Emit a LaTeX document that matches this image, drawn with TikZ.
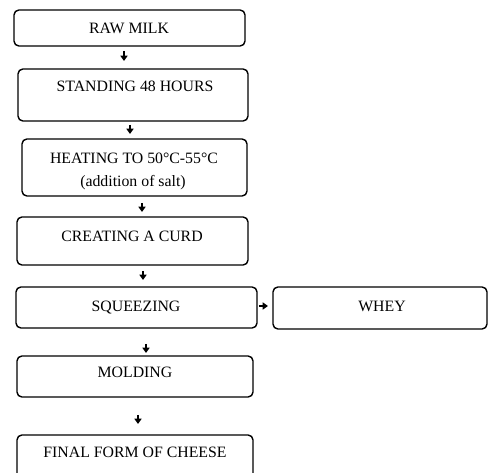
\documentclass[tikz,border=0pt]{standalone}
\usepackage{fontspec}
\setmainfont{Liberation Serif}
\usetikzlibrary{arrows.meta,fit}
\begin{document}
\begin{tikzpicture}[x=0.02cm,y=-0.02cm,
  box/.style={draw, line width=0.8pt, rounded corners=2.8pt, inner sep=0pt},
  txt/.style={font=\fontsize{9}{11}\selectfont, inner sep=0pt, anchor=base},
  arr/.style={line width=1pt, -{Triangle[width=4pt,length=3pt]}}]
\useasboundingbox (0,0) rectangle (488,473);
% boxes
\node[box, fit={(14,10) (245,46)}] (b1) {};
\node[box, fit={(18,69) (248,121)}] (b2) {};
\node[box, fit={(22,139) (247,196)}] (b3) {};
\node[box, fit={(17,217) (248,265)}] (b4) {};
\node[box, fit={(16,287) (257,328)}] (b5) {};
\node[box, fit={(273,287) (487,329)}] (b8) {};
\node[box, fit={(17,356) (253,397)}] (b6) {};
\node[box, fit={(17,435) (253,490)}] (b7) {};
% texts
\node[txt] (t1) at (129,34) {RAW MILK};
\node[txt] (t2) at (135,92) {STANDING 48 HOURS};
\node[txt] (t3) at (134,164) {HEATING TO 50°C-55°C};
\node[txt] (t3b) at (133,187) {(addition of salt)};
\node[txt] (t4) at (132,242) {CREATING A CURD};
\node[txt] (t5) at (136,312) {SQUEEZING};
\node[txt] (t8) at (382,312) {WHEY};
\node[txt] (t6) at (135,378) {MOLDING};
\node[txt] (t7) at (135,458) {FINAL FORM OF CHEESE};
% arrows
\coordinate (a1s) at (124,51); \coordinate (a1e) at (124,61);
\coordinate (a2s) at (130,125); \coordinate (a2e) at (130,134);
\coordinate (a3s) at (142,203); \coordinate (a3e) at (142,212);
\coordinate (a4s) at (143,271); \coordinate (a4e) at (143,280);
\coordinate (a5s) at (146,344); \coordinate (a5e) at (146,353);
\coordinate (a6s) at (138,415); \coordinate (a6e) at (138,424);
\coordinate (a7s) at (259,306); \coordinate (a7e) at (268,306);
\draw[arr] (a1s) -- (a1e);
\draw[arr] (a2s) -- (a2e);
\draw[arr] (a3s) -- (a3e);
\draw[arr] (a4s) -- (a4e);
\draw[arr] (a5s) -- (a5e);
\draw[arr] (a6s) -- (a6e);
\draw[arr] (a7s) -- (a7e);
\end{tikzpicture}
\end{document}
